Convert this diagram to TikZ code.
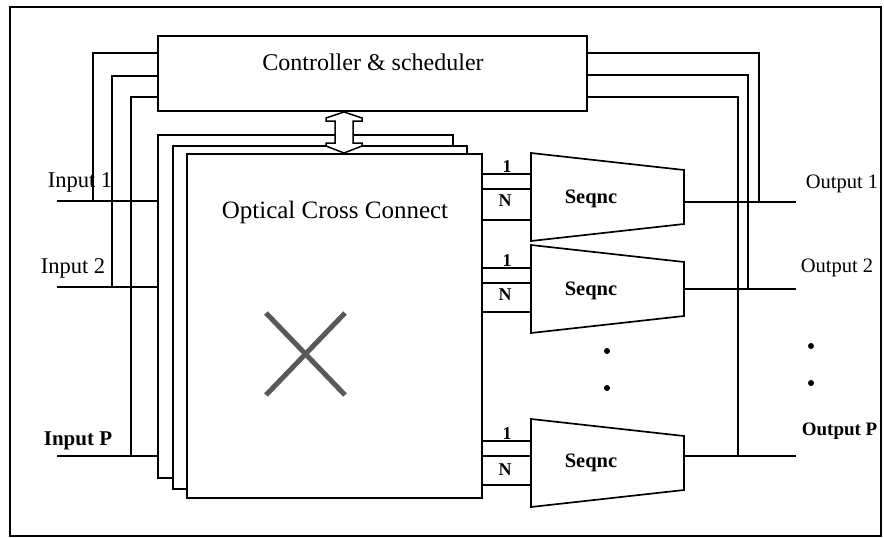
\documentclass[tikz,border=0pt]{standalone}
\usepackage{fontspec}
\setmainfont{Liberation Serif}
\usetikzlibrary{calc}
\begin{document}
\begin{tikzpicture}[x=1pt,y=-1pt,line width=1.7pt,line join=miter,
  rectnode/.style={draw,fill=white,inner sep=0pt,outer sep=0pt,anchor=north west},
  bigtxt/.style={font=\fontsize{24}{27}\selectfont,inner sep=0pt},
  lbltxt/.style={font=\fontsize{22.5}{25}\selectfont,inner sep=0pt,anchor=base west},
  lblbold/.style={font=\fontsize{21}{24}\selectfont\bfseries,inner sep=0pt,anchor=base west},
  outtxt/.style={font=\fontsize{20.5}{24}\selectfont,inner sep=0pt,anchor=base west},
  outbold/.style={font=\fontsize{19}{24}\selectfont\bfseries,inner sep=0pt,anchor=base west},
  seqtxt/.style={font=\fontsize{20.5}{24}\selectfont\bfseries,inner sep=0pt,anchor=base},
  porttxt/.style={font=\fontsize{18}{20}\selectfont\bfseries,inner sep=0pt,anchor=base},
  seqshape/.style={draw,fill=white},
  xline/.style={draw=black!65,line width=5pt},
  dotfill/.style={fill=black}]
\useasboundingbox (0,0) rectangle (884,538);
% outer frame
\draw[line width=1.3pt] (10,7) rectangle (881,536);

% controller
\node[rectnode,minimum width=429pt,minimum height=75pt] (ctrl) at (158,36) {};
\node[bigtxt,anchor=base] (ctrltxt) at (373,70) {Controller \& scheduler};

% stacked OXC boxes
\node[rectnode,minimum width=295pt,minimum height=343pt] (oxcA) at (158,135) {};
\node[rectnode,minimum width=294pt,minimum height=343pt] (oxcB) at (173,146) {};
\node[rectnode,minimum width=295pt,minimum height=344pt] (oxcC) at (187,154) {};
\node[bigtxt,anchor=base,font=\fontsize{25}{28}\selectfont] (oxctxt) at (335,218) {Optical Cross Connect};

% cross symbol
\draw[xline] (266,313) -- (345,395);
\draw[xline] (345,313) -- (266,395);

% double arrow controller <-> OXC
\draw[fill=white,line width=1.5pt] (344,112) -- (362,118) -- (362,121) -- (353,121) -- (353,143) -- (362,143) -- (362,146) -- (344,153)
  -- (326,146) -- (326,143) -- (335,143) -- (335,121) -- (326,121) -- (326,118) -- cycle;

% inputs
\coordinate (in1) at (57,201);
\coordinate (in2) at (57,287);
\coordinate (inP) at (57,456);
\draw (in1) -- (in1 -| oxcA.west);
\draw (in2) -- (in2 -| oxcA.west);
\draw (inP) -- (inP -| oxcA.west);
\node[lbltxt] (in1txt) at (47,187) {Input 1};
\node[lbltxt] (in2txt) at (40,273) {Input 2};
\node[lblbold] (inPtxt) at (43,445) {Input P};

% left control lines
\draw (ctrl.west |- 0,53) -| (93,201);
\draw (ctrl.west |- 0,76) -| (112,287);
\draw (ctrl.west |- 0,97) -| (131,456);

% sequencers
\draw[seqshape] (531,153) -- (684,170) -- (684,224) -- (531,241) -- cycle;
\draw[seqshape] (531,245) -- (684,262) -- (684,316) -- (531,333) -- cycle;
\draw[seqshape] (531,419) -- (684,436) -- (684,490) -- (531,507) -- cycle;
\node[seqtxt] (s1) at (591,203) {Seqnc};
\node[seqtxt] (s2) at (591,295) {Seqnc};
\node[seqtxt] (s3) at (591,467) {Seqnc};

% port lines
\foreach \y in {174,189,220,268,283,312,441,456,485}{
  \draw (oxcC.east |- 0,\y) -- (531,\y);
}
\node[porttxt] (p11) at (507,172) {1};
\node[porttxt] (p1n) at (505,206) {N};
\node[porttxt] (p21) at (507,266) {1};
\node[porttxt] (p2n) at (505,300) {N};
\node[porttxt] (p31) at (507,439) {1};
\node[porttxt] (p3n) at (505,475) {N};

% dots
\fill[dotfill] (607,351) circle (3pt);
\fill[dotfill] (607,388) circle (3pt);
\fill[dotfill] (811,346) circle (3pt);
\fill[dotfill] (811,383) circle (3pt);

% outputs
\coordinate (out1) at (796,202);
\coordinate (out2) at (796,289);
\coordinate (outP) at (796,456);
\draw (684,202) -- (out1);
\draw (684,289) -- (out2);
\draw (684,456) -- (outP);
\node[outtxt] (o1txt) at (805,188) {Output 1};
\node[outtxt] (o2txt) at (800,272) {Output 2};
\node[outbold] (oPtxt) at (801,435) {Output P};

% right control lines
\draw (ctrl.east |- 0,53) -| (759,202);
\draw (ctrl.east |- 0,75) -| (748,289);
\draw (ctrl.east |- 0,97) -| (738,456);
\end{tikzpicture}
\end{document}
